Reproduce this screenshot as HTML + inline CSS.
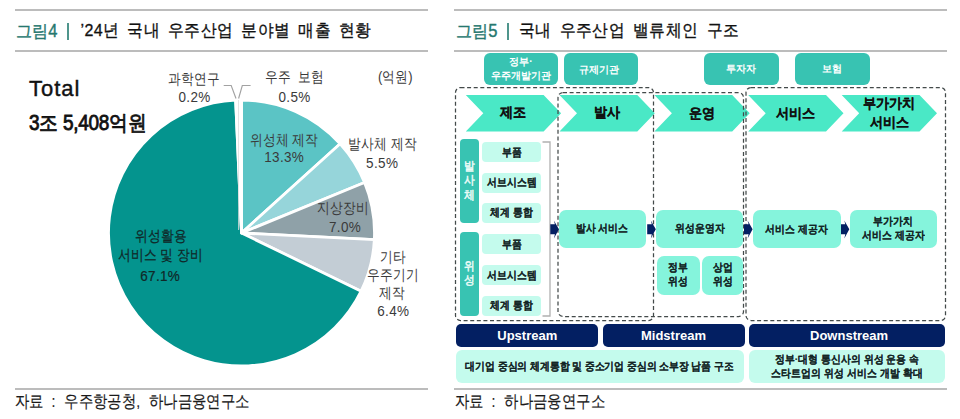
<!DOCTYPE html>
<html><head><meta charset="utf-8">
<style>
html,body{margin:0;padding:0;background:#fff;}
body{width:960px;height:419px;position:relative;overflow:hidden;font-family:"Liberation Sans",sans-serif;color:#222;}
.a{position:absolute;white-space:pre;line-height:1;}
.hl{position:absolute;height:2px;background:#bcbcbc;}
.ttl{font-size:16px;top:22.5px;-webkit-text-stroke:0.3px #111;color:#111;transform:scaleY(1.08);transform-origin:0 8px}
.fig{color:#26786f;-webkit-text-stroke:0.35px #26786f;font-size:16.5px;letter-spacing:-0.6px;transform:scaleY(1.06)}
.bar{position:absolute;width:1.6px;background:#4f958c;top:22.5px;height:17.5px;}
.pl{position:absolute;width:140px;text-align:center;white-space:nowrap;font-size:13px;line-height:16px;color:#3a3a3a;}
.pl{transform:scaleY(1.18);}
.pn{font-size:13.5px;letter-spacing:0.35px;transform:scaleY(1.15);}
.pd{color:#102828;-webkit-text-stroke:0.2px #102828;}
.tb{position:absolute;background:#38c3b2;border-radius:6px;color:#fff;font-weight:bold;font-size:10px;display:flex;align-items:center;justify-content:center;text-align:center;line-height:14px;white-space:nowrap;top:53.2px;height:31.5px;}
.vb{position:absolute;background:#38c3b2;border-radius:4px;left:460px;width:18.5px;}
.vt{position:absolute;left:455px;width:28px;text-align:center;color:#eefcf8;font-size:10.5px;line-height:13px;transform:scaleY(1.12);-webkit-text-stroke:0.45px #eefcf8;}
.sb{position:absolute;background:#c4fbed;border-radius:4px;left:482px;width:59px;height:20px;}
.mb{position:absolute;background:#85f4dc;border-radius:7px;}
.tx{position:absolute;white-space:nowrap;text-align:center;font-weight:bold;font-size:10px;line-height:12.5px;transform:scaleY(1.12);color:#142626;-webkit-text-stroke:0.05px #142626;}
.nb{position:absolute;background:#031f62;border-radius:5px;top:324px;height:22.5px;}
.nt{position:absolute;white-space:nowrap;text-align:center;color:#fff;font-weight:bold;font-size:13px;line-height:16px;top:328px;}
.db{position:absolute;background:#c4fbed;border-radius:6px;top:350px;height:33px;}
.chv{position:absolute;white-space:nowrap;text-align:center;font-weight:bold;font-size:13px;line-height:18px;transform:scaleY(1.07);color:#111;-webkit-text-stroke:0.2px #111;}
</style></head><body>
<div class="hl" style="left:15px;width:413px;top:9px"></div>
<div class="hl" style="left:15px;width:413px;top:50px"></div>
<div class="hl" style="left:15px;width:413px;top:388px"></div>
<div class="hl" style="left:454px;width:493px;top:9px"></div>
<div class="hl" style="left:454px;width:493px;top:50px"></div>
<div class="hl" style="left:454px;width:493px;top:388px"></div>
<div class="a ttl fig" style="left:15.5px">그림4</div><div class="bar" style="left:67px"></div>
<div class="a ttl" style="left:80.5px;word-spacing:3px;letter-spacing:0.4px">’24년 국내 우주산업 분야별 매출 현황</div>
<div class="a ttl fig" style="left:455.5px">그림5</div><div class="bar" style="left:507px"></div>
<div class="a ttl" style="left:519px;word-spacing:3px;letter-spacing:0.4px">국내 우주산업 밸류체인 구조</div>
<div class="a" style="left:14.5px;top:393.5px;font-size:14px;letter-spacing:0.4px;word-spacing:4px;color:#1a1a1a;-webkit-text-stroke:0.15px #1a1a1a;transform:scaleY(1.18);transform-origin:0 7.5px">자료 : 우주항공청, 하나금융연구소</div>
<div class="a" style="left:454.5px;top:393.5px;font-size:14px;letter-spacing:0.4px;word-spacing:4px;color:#1a1a1a;-webkit-text-stroke:0.15px #1a1a1a;transform:scaleY(1.18);transform-origin:0 7.5px">자료 : 하나금융연구소</div>
<svg style="position:absolute;left:0;top:0" width="480" height="380"><g stroke="#fff" stroke-width="2.8" stroke-linejoin="round">
<path d="M241.5 233L241.50 100.00A133 133 0 0 1 340.15 143.80Z" fill="#5bc4c5"/>
<path d="M241.5 233L340.15 143.80A133 133 0 0 1 364.54 182.49Z" fill="#96d5da"/>
<path d="M241.5 233L364.54 182.49A133 133 0 0 1 374.33 239.68Z" fill="#8fa1a8"/>
<path d="M241.5 233L374.33 239.68A133 133 0 0 1 361.12 291.14Z" fill="#c3cdd5"/>
<path d="M241.5 233L361.12 291.14A133 133 0 1 1 235.65 100.13Z" fill="#04948e"/>
<path d="M241.5 233L235.65 100.13A133 133 0 0 1 237.32 100.07Z" fill="#ffffff"/>
<path d="M241.5 233L237.32 100.07A133 133 0 0 1 241.50 100.00Z" fill="#ffffff"/>
</g><path d="M238.5 100L238.5 230" stroke="#dcdcdc" stroke-width="0.8" fill="none"/>
<path d="M223.7 85.5H231.2L236 98.5M250.6 85.5H242.3L238.6 98.5" stroke="#a2a2a2" stroke-width="1.15" fill="none"/></svg>
<div class="a" style="left:29px;top:77.5px;font-size:22px;color:#111;-webkit-text-stroke:0.4px #111;letter-spacing:1px">Total</div>
<div class="a" style="left:29px;top:112px;font-size:19px;color:#111;-webkit-text-stroke:0.75px #111;letter-spacing:-0.3px;transform:scaleY(1.12);transform-origin:0 0">3조 5,408억원</div>
<div class="pl" style="left:124.4px;top:70.7px;">과학연구</div>
<div class="pl pn" style="left:124.6px;top:88.8px;">0.2%</div>
<div class="pl" style="left:224.5px;top:69.3px;">우주&nbsp;&nbsp;보험</div>
<div class="pl pn" style="left:224.6px;top:88.9px;">0.5%</div>
<div class="pl" style="left:325.3px;top:69.3px;">(억원)</div>
<div class="pl" style="left:214.2px;top:131.8px;">위성체 제작</div>
<div class="pl pn" style="left:214.2px;top:149.3px;">13.3%</div>
<div class="pl" style="left:312.5px;top:135.7px;">발사체 제작</div>
<div class="pl pn" style="left:312.2px;top:155.0px;">5.5%</div>
<div class="pl" style="left:273.4px;top:200.0px;">지상장비</div>
<div class="pl pn" style="left:275.1px;top:219.1px;">7.0%</div>
<div class="pl" style="left:322.5px;top:248.5px;">기타</div>
<div class="pl" style="left:322.7px;top:266.8px;">우주기기</div>
<div class="pl" style="left:322.3px;top:285.0px;">제작</div>
<div class="pl pn" style="left:323.3px;top:303.4px;">6.4%</div>
<div class="pl pd" style="left:90.5px;top:228.3px;">위성활용</div>
<div class="pl pd" style="left:90.2px;top:246.7px;">서비스 및 장비</div>
<div class="pl pd pn" style="left:90.2px;top:267.6px;">67.1%</div>
<div class="tb" style="left:484px;width:74px">정부·<br>우주개발기관</div>
<div class="tb" style="left:564px;width:73.5px"><span style="position:relative;left:-1.5px;top:1px">규제기관</span></div>
<div class="tb" style="left:704px;width:74.5px">투자자</div>
<div class="tb" style="left:795px;width:74.5px">보험</div>
<svg style="position:absolute;left:0;top:0" width="960" height="419"><g fill="#4ae8c6">
<path d="M465.8 95H543.6L561.1 113.3L543.6 131.5H465.8L483.3 113.3Z"/>
<path d="M559.5 95H637.3L654.8 113.3L637.3 131.5H559.5L577.0 113.3Z"/>
<path d="M654.4 95H732.1999999999999L749.6999999999999 113.3L732.1999999999999 131.5H654.4L671.9 113.3Z"/>
<path d="M748.2 95H826.0L843.5 113.3L826.0 131.5H748.2L765.7 113.3Z"/>
<path d="M841.7 95H919.5L937.0 113.3L919.5 131.5H841.7L859.2 113.3Z"/>
</g><g fill="none" stroke="#434a4a" stroke-width="1.25" stroke-dasharray="4 2.6">
<rect x="455.5" y="87.5" width="198" height="233" rx="5"/>
<rect x="558" y="92.5" width="185.5" height="224" rx="5"/>
<rect x="746" y="87.5" width="199.5" height="233" rx="5"/></g>
<path d="M542.5 142H550V316H542.5" fill="none" stroke="#b0b0b0" stroke-width="1.3"/><g fill="#031f62">
<path d="M550.3 224.2H554.9L553.9 220.4L558.9 229.3L553.9 238.4L554.9 234.2H550.3Z"/>
<path d="M647.2 224.2H651.8000000000001L650.8000000000001 220.4L655.8000000000001 229.3L650.8000000000001 238.4L651.8000000000001 234.2H647.2Z"/>
<path d="M744 224.2H748.6L747.6 220.4L752.6 229.3L747.6 238.4L748.6 234.2H744Z"/>
<path d="M840.7 224.2H845.3000000000001L844.3000000000001 220.4L849.3000000000001 229.3L844.3000000000001 238.4L845.3000000000001 234.2H840.7Z"/>
</g></svg>
<div class="chv" style="left:465.8px;top:104px;width:95px">제조</div>
<div class="chv" style="left:559.5px;top:104px;width:95px">발사</div>
<div class="chv" style="left:654.4px;top:104.5px;width:95px">운영</div>
<div class="chv" style="left:748.2px;top:104.5px;width:95px">서비스</div>
<div class="chv" style="left:841.7px;top:95px;width:95px">부가가치<br>서비스</div>
<div class="vb" style="top:139px;height:84px"></div><div class="vt" style="top:161px">발<br>사<br>체</div>
<div class="vb" style="top:232px;height:84px"></div><div class="vt" style="top:260px">위<br>성</div>
<div class="sb" style="top:142px"></div><div class="tx" style="left:482px;width:59px;top:146.8px">부품</div>
<div class="sb" style="top:172.5px"></div><div class="tx" style="left:482px;width:59px;top:177.3px">서브시스템</div>
<div class="sb" style="top:202.5px"></div><div class="tx" style="left:482px;width:59px;top:207.3px">체계 통합</div>
<div class="sb" style="top:234px"></div><div class="tx" style="left:482px;width:59px;top:238.8px">부품</div>
<div class="sb" style="top:265px"></div><div class="tx" style="left:482px;width:59px;top:269.8px">서브시스템</div>
<div class="sb" style="top:295.5px"></div><div class="tx" style="left:482px;width:59px;top:300.3px">체계 통합</div>
<div class="mb" style="left:558.5px;top:209.5px;width:87.2px;height:38.5px"></div><div class="tx" style="left:558.5px;width:87.2px;top:223px">발사 서비스</div>
<div class="mb" style="left:656px;top:209.5px;width:87px;height:38.5px"></div><div class="tx" style="left:656px;width:87px;top:223px">위성운영자</div>
<div class="mb" style="left:657px;top:255.5px;width:42.5px;height:39px"></div><div class="tx" style="left:657px;width:42.5px;top:261.8px">정부<br>위성</div>
<div class="mb" style="left:702px;top:255.5px;width:41px;height:39px"></div><div class="tx" style="left:702px;width:41px;top:261.8px">상업<br>위성</div>
<div class="mb" style="left:752.5px;top:209.5px;width:88px;height:38.5px"></div><div class="tx" style="left:752.5px;width:88px;top:223.5px">서비스 제공자</div>
<div class="mb" style="left:849.5px;top:209.5px;width:87.5px;height:38.5px"></div><div class="tx" style="left:849.5px;width:87.5px;top:215.8px">부가가치<br>서비스 제공자</div>
<div class="nb" style="left:455.5px;width:142.5px"></div><div class="nt" style="left:456.0px;width:142.5px">Upstream</div>
<div class="nb" style="left:602.5px;width:142px"></div><div class="nt" style="left:602.5px;width:142px">Midstream</div>
<div class="nb" style="left:748.8px;width:196.5px"></div><div class="nt" style="left:750.8px;width:196.5px">Downstream</div>
<div class="db" style="left:455.5px;width:288px"></div><div class="tx" style="left:455.5px;width:288px;top:361px;letter-spacing:-0.12px">대기업 중심의 체계통합 및 중소기업 중심의 소부장 납품 구조</div>
<div class="db" style="left:748.8px;width:196.5px"></div><div class="tx" style="left:748.8px;width:196.5px;top:354px">정부·대형 통신사의 위성 운용 속<br>스타트업의 위성 서비스 개발 확대</div>
</body></html>
